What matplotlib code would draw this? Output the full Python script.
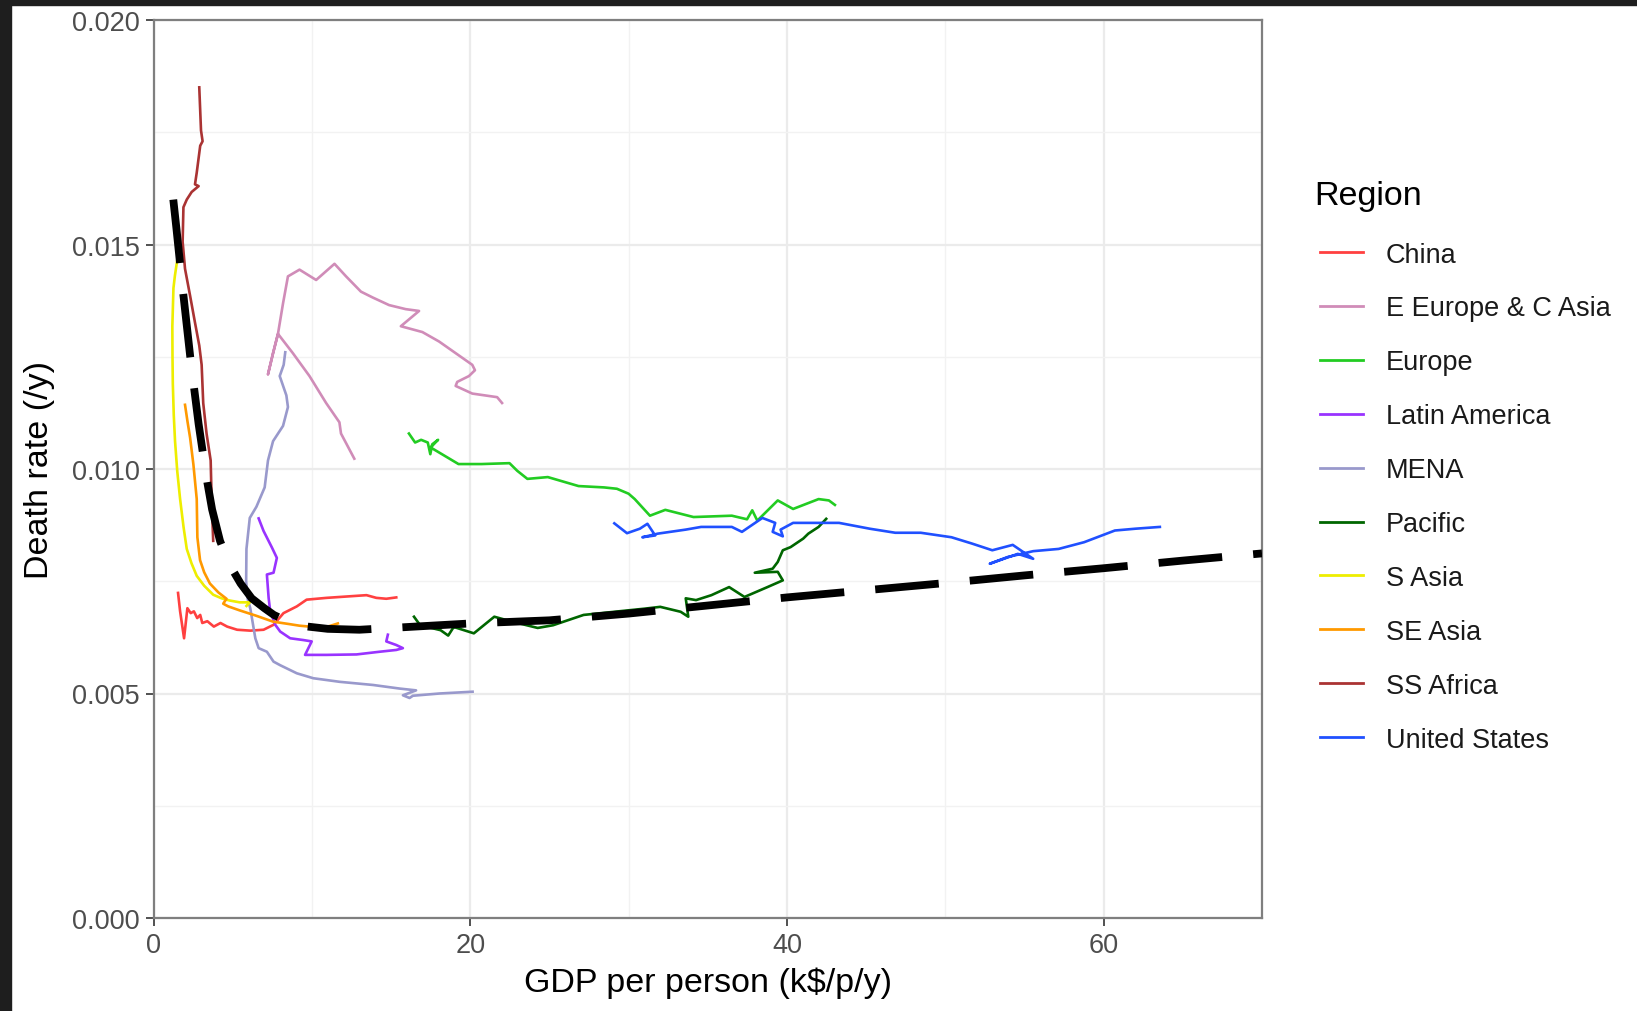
import numpy as np
import matplotlib.pyplot as plt
from matplotlib.lines import Line2D
from matplotlib.patches import Rectangle
from matplotlib.ticker import MultipleLocator, FormatStrFormatter

plt.rcParams["font.family"] = ["Liberation Sans", "DejaVu Sans"]

# --- data: GDP per person (k$/p/y) vs death rate (/y) ---
china_x = [1.55, 1.68, 1.93, 2.14, 2.35, 2.55, 2.76, 2.95, 3.08, 3.4, 3.81, 4.23, 4.65, 5.28,
           6.11, 6.95, 7.58, 8.21, 9.05, 9.67, 10.93, 12.19, 13.45, 14.07, 14.7, 15.33]
china_y = [0.00724, 0.00683, 0.00623, 0.0069, 0.00679, 0.00683, 0.00668, 0.00675, 0.00657, 0.00661,
           0.00649, 0.00657, 0.00649, 0.00642, 0.0064, 0.00642, 0.00653, 0.00679, 0.00694, 0.00709,
           0.00713, 0.00716, 0.00719, 0.00713, 0.00711, 0.00714]

eeca_x = [12.68, 11.84, 11.74, 10.9, 9.85, 8.8, 7.86, 7.55, 7.23, 7.55, 7.86, 8.18, 8.49, 9.22,
          10.27, 11.43, 12.16, 13.1, 13.84, 14.88, 15.93, 16.77, 15.62, 16.98, 18.03, 20.13, 20.3,
          19.92, 19.18, 19.08, 20.13, 21.7, 22.01]
eeca_y = [0.01023, 0.01079, 0.01104, 0.01147, 0.01207, 0.01258, 0.01301, 0.01258, 0.01211, 0.01258,
          0.01301, 0.01369, 0.01429, 0.01444, 0.01421, 0.01457, 0.01429, 0.01395, 0.01382, 0.01365,
          0.01356, 0.01352, 0.01318, 0.01305, 0.01284, 0.01232, 0.0122, 0.01207, 0.01194, 0.01185,
          0.01168, 0.0116, 0.01147]

europe_x = [16.13, 16.52, 16.9, 17.32, 17.48, 17.6, 17.97, 17.5, 19.26, 20.71, 22.48, 22.97, 23.61,
            24.9, 26.84, 28.45, 29.26, 30.0, 30.39, 31.35, 32.32, 34.1, 36.52, 37.48, 37.81, 38.13,
            39.42, 40.39, 42.0, 42.65, 43.03]
europe_y = [0.01079, 0.01059, 0.01065, 0.01059, 0.01033, 0.01055, 0.01065, 0.01048, 0.01011, 0.01011,
            0.01013, 0.00996, 0.00978, 0.00982, 0.00962, 0.00959, 0.00956, 0.00945, 0.00933, 0.00896,
            0.00909, 0.00893, 0.00896, 0.00888, 0.00908, 0.00885, 0.0093, 0.00911, 0.00933, 0.0093,
            0.0092]

latam_x = [6.64, 6.95, 7.48, 7.79, 7.58, 7.16, 7.27, 7.37, 7.69, 8.0, 8.63, 9.47, 9.99, 9.57, 10.93,
           12.82, 14.28, 15.33, 15.75, 15.33, 14.7, 14.8]
latam_y = [0.0089, 0.00862, 0.00825, 0.00802, 0.00769, 0.00765, 0.00713, 0.00683, 0.00653, 0.00638,
           0.00623, 0.00619, 0.00616, 0.00586, 0.00586, 0.00587, 0.00593, 0.00597, 0.00601, 0.00608,
           0.00616, 0.00631]

mena_x = [8.32, 8.22, 7.97, 8.39, 8.49, 8.18, 7.55, 7.23, 7.02, 6.5, 6.08, 5.87, 5.85, 5.95, 6.11,
          6.43, 6.64, 7.16, 7.58, 8.0, 9.05, 10.09, 11.76, 13.86, 15.54, 16.58, 15.75, 16.17, 16.38,
          18.06, 20.15]
mena_y = [0.0126, 0.01232, 0.01207, 0.01164, 0.01138, 0.01096, 0.01062, 0.01019, 0.00959, 0.00916,
          0.00891, 0.00822, 0.0075, 0.0071, 0.0069, 0.00623, 0.00601, 0.00593, 0.00571, 0.00563,
          0.00545, 0.00534, 0.00526, 0.00519, 0.00511, 0.00507, 0.00496, 0.0049, 0.00495, 0.005,
          0.00504]

pacific_x = [16.45, 16.84, 18.13, 18.61, 19.1, 18.8, 20.23, 21.52, 22.65, 24.26, 25.23, 27.16, 29.1,
             31.03, 32.0, 33.29, 33.77, 33.61, 34.26, 35.23, 36.35, 37.32, 38.77, 39.74, 39.42, 37.97,
             39.1, 39.42, 39.74, 40.23, 41.03, 41.35, 42.0, 42.48]
pacific_y = [0.00671, 0.00652, 0.00641, 0.00629, 0.00656, 0.0065, 0.00634, 0.00671, 0.0066, 0.00646,
             0.00652, 0.00675, 0.00682, 0.00689, 0.00693, 0.00682, 0.00671, 0.00712, 0.00708, 0.00719,
             0.00737, 0.00715, 0.00737, 0.00752, 0.00771, 0.00769, 0.00778, 0.00793, 0.00819, 0.00826,
             0.00845, 0.00856, 0.00871, 0.00889]

sasia_x = [1.51, 1.35, 1.26, 1.19, 1.2, 1.22, 1.28, 1.36, 1.5, 1.68, 1.9, 2.1, 2.4, 2.73, 3.2, 3.77,
           4.3, 4.82, 5.45, 6.08, 5.87]
sasia_y = [0.01468, 0.0143, 0.01403, 0.01318, 0.0125, 0.0119, 0.0112, 0.01062, 0.00995, 0.00933,
           0.0087, 0.00822, 0.0079, 0.00762, 0.0074, 0.0072, 0.00712, 0.00707, 0.00703, 0.00703,
           0.00695]

seasia_x = [1.99, 2.15, 2.31, 2.52, 2.73, 2.77, 2.94, 3.2, 3.56, 4.1, 4.61, 4.4, 4.72, 5.45, 6.5,
            7.55, 8.5, 9.22, 10.48, 11.1, 11.64]
seasia_y = [0.01143, 0.01105, 0.0107, 0.0101, 0.00933, 0.00848, 0.00797, 0.0077, 0.00745, 0.00725,
            0.00711, 0.007, 0.00694, 0.00685, 0.00673, 0.0066, 0.00655, 0.00651, 0.00647, 0.0065,
            0.00656]

ssafrica_x = [2.89, 3.0, 3.1, 2.95, 2.73, 2.62, 2.85, 2.41, 2.1, 1.89, 1.84, 1.99, 2.31, 2.62, 2.89,
              3.04, 3.14, 3.35, 3.61, 3.67, 3.77]
ssafrica_y = [0.0185, 0.01754, 0.0173, 0.0172, 0.0166, 0.01634, 0.0163, 0.01617, 0.016, 0.01583,
              0.01506, 0.01446, 0.01386, 0.01326, 0.01275, 0.01232, 0.01147, 0.01079, 0.01019, 0.00933,
              0.0084]

us_x = [29.1, 29.9, 30.71, 31.19, 31.68, 30.87, 31.84, 33.61, 34.58, 36.52, 37.16, 38.45, 39.26,
        39.1, 39.74, 39.6, 40.39, 41.68, 43.29, 45.23, 46.84, 48.45, 50.39, 51.68, 52.97, 54.26,
        55.55, 54.58, 52.81, 53.94, 55.55, 57.16, 58.77, 60.71, 62.0, 63.55]
us_y = [0.00879, 0.00857, 0.00867, 0.00878, 0.00852, 0.00848, 0.00856, 0.00865, 0.00871, 0.00871,
        0.0086, 0.00891, 0.0088, 0.0086, 0.0085, 0.00865, 0.0088, 0.0088, 0.0088, 0.00867, 0.00858,
        0.00858, 0.00848, 0.00834, 0.00819, 0.00831, 0.008, 0.00811, 0.00789, 0.00804, 0.00817,
        0.00822, 0.00837, 0.00863, 0.00867, 0.00871]

# fitted curve (dashed)
fit_x = [1.25, 1.45, 1.67, 1.88, 2.1, 2.32, 2.6, 2.85, 3.1, 3.4, 3.7, 4.2, 4.65, 5.0, 5.5, 6.2, 7.0,
         7.6, 8.5, 9.5, 11, 13, 15, 20, 25, 30, 35, 40, 45, 50, 55, 60, 65, 70]
fit_y = [0.016, 0.01535, 0.0146, 0.0139, 0.0132, 0.0125, 0.0117, 0.011, 0.0104, 0.0097, 0.0091,
         0.0084, 0.008, 0.00775, 0.00745, 0.00712, 0.0069, 0.00675, 0.0066, 0.0065, 0.00644, 0.00642,
         0.00646, 0.00656, 0.00663, 0.00678, 0.00696, 0.00714, 0.0073, 0.00746, 0.00763, 0.00779,
         0.00796, 0.00812]

regions = ["China", "E Europe & C Asia", "Europe", "Latin America", "MENA", "Pacific",
           "S Asia", "SE Asia", "SS Africa", "United States"]
series = [(china_x, china_y), (eeca_x, eeca_y), (europe_x, europe_y), (latam_x, latam_y),
          (mena_x, mena_y), (pacific_x, pacific_y), (sasia_x, sasia_y), (seasia_x, seasia_y),
          (ssafrica_x, ssafrica_y), (us_x, us_y)]
colours = ["#ff4040", "#d08cb8", "#22cc22", "#9933ff", "#9999cc", "#006600",
           "#eeee00", "#ff9900", "#aa3333", "#2050ff"]

W, H = 1637, 1012
fig = plt.figure(figsize=(W / 100, H / 100), dpi=100)
ax = fig.add_axes([153.5 / W, 1 - 919 / H, (1262 - 153.5) / W, (919 - 21) / H])

for (xs, ys), c in zip(series, colours):
    ax.plot(xs, ys, color=c, lw=1.9, solid_joinstyle="round", zorder=3)

ax.plot(fit_x, fit_y, color="black", lw=5.6, dashes=(8.2, 4.0), dash_capstyle="butt", zorder=4)

ax.set_xlim(0, 70)
ax.set_ylim(0, 0.02)
ax.xaxis.set_major_locator(MultipleLocator(20))
ax.xaxis.set_minor_locator(MultipleLocator(10))
ax.yaxis.set_major_locator(MultipleLocator(0.005))
ax.yaxis.set_minor_locator(MultipleLocator(0.0025))
ax.yaxis.set_major_formatter(FormatStrFormatter("%.3f"))

ax.grid(which="major", color="#ebebeb", lw=1.6, zorder=0)
ax.grid(which="minor", color="#f2f2f2", lw=1.0, zorder=0)
ax.set_axisbelow(True)
for s in ax.spines.values():
    s.set_color("#7f7f7f")
    s.set_linewidth(1.6)
ax.tick_params(which="major", length=5.8, width=1.2, color="#333333",
               labelsize=19.5, labelcolor="#4d4d4d", pad=4)
ax.tick_params(which="minor", length=0)

ax.set_xlabel("GDP per person (k$/p/y)", fontsize=24.5)
ax.xaxis.set_label_coords(0.5, (919 - 968) / 898)
ax.xaxis.label.set_va("top")
ax.set_ylabel("Death rate (/y)", fontsize=24.5)
ax.yaxis.set_label_coords((40 - 153.5) / 1108.5, 0.5)
ax.yaxis.label.set_va("center")

# legend drawn by hand to match the ggplot layout
fig.text(1314 / W, 1 - 204.6 / H, "Region", fontsize=24.5, va="baseline", ha="left")
for i, (name, c) in enumerate(zip(regions, colours)):
    yk = 1 - (253 + 53.9 * i) / H
    fig.add_artist(Line2D([1320 / W, 1363 / W], [yk, yk], color=c, lw=2.0,
                          transform=fig.transFigure))
    fig.text(1385.5 / W, yk - 9.6 / H, name, fontsize=19.5, va="baseline", ha="left",
             color="#1a1a1a")

# dark screenshot frame on top and left
fig.patches.append(Rectangle((0, 1 - 6 / H), 1, 6 / H, transform=fig.transFigure,
                             color="#1e1e1e", zorder=10))
fig.patches.append(Rectangle((0, 0), 11 / W, 1, transform=fig.transFigure,
                             color="#1e1e1e", zorder=10))

fig.savefig("out.png", dpi=100, facecolor="white")
